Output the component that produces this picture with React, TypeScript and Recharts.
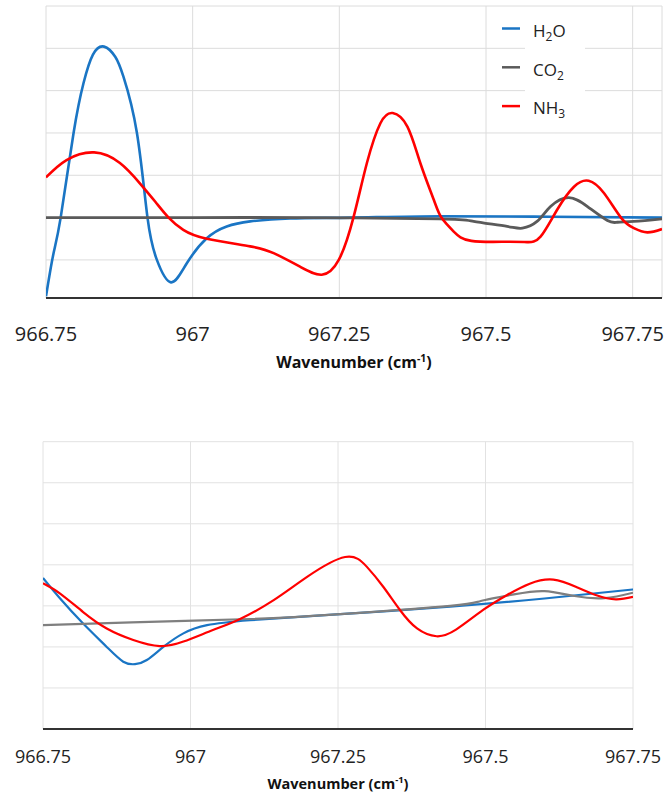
import { LineChart, Line, XAxis, YAxis, CartesianGrid } from "recharts";

const xTicks = [966.75, 967, 967.25, 967.5, 967.75];

// 2F signal (top)
const h2o2fX = [966.75, 966.762, 966.775, 966.797, 966.814, 966.83, 966.849, 966.868, 966.882, 966.905, 966.923, 966.939, 966.963, 966.99, 967.024, 967.058, 967.098, 967.166, 967.269, 967.422, 967.61, 967.8];
const h2o2fY = [-1.86, -0.9, 0, 2.0, 3.18, 3.85, 4.04, 3.8, 3.33, 2.0, 0, -1.0, -1.53, -1.08, -0.49, -0.21, -0.09, -0.02, 0, 0.03, 0.02, 0];

const co22fX = [966.75, 967.0, 967.2, 967.42, 967.479, 967.536, 967.562, 967.587, 967.61, 967.641, 967.673, 967.707, 967.724, 967.752, 967.8];
const co22fY = [0, 0, 0, -0.03, -0.09, -0.21, -0.25, -0.09, 0.26, 0.47, 0.26, -0.07, -0.11, -0.09, -0.03];

const nh32fX = [966.75, 966.785, 966.832, 966.876, 966.91, 966.936, 966.959, 966.984, 967.024, 967.098, 967.138, 967.183, 967.22, 967.249, 967.274, 967.297, 967.32, 967.341, 967.366, 967.388, 967.411, 967.424, 967.445, 967.475, 967.536, 967.57, 967.593, 967.621, 967.65, 967.675, 967.701, 967.73, 967.752, 967.775, 967.8];
const nh32fY = [0.95, 1.36, 1.54, 1.29, 0.81, 0.38, 0, -0.29, -0.5, -0.68, -0.84, -1.16, -1.35, -1.0, 0, 1.29, 2.23, 2.47, 2.15, 1.29, 0.42, 0, -0.33, -0.55, -0.57, -0.58, -0.45, 0.18, 0.73, 0.87, 0.58, 0, -0.25, -0.35, -0.27];

// 1F signal (bottom)
const h2o1fX = [966.75, 966.779, 966.818, 966.858, 966.886, 966.906, 966.926, 966.954, 966.988, 967.028, 967.101, 967.254, 967.44, 967.6, 967.75];
const h2o1fY = [3.68, 3.18, 2.57, 2.0, 1.64, 1.58, 1.68, 2.0, 2.33, 2.53, 2.65, 2.8, 2.98, 3.18, 3.4];

const co21fX = [966.75, 966.9, 967.101, 967.254, 967.44, 967.492, 967.548, 967.6, 967.651, 967.702, 967.75];
const co21fY = [2.53, 2.6, 2.68, 2.8, 3.0, 3.12, 3.28, 3.36, 3.24, 3.19, 3.32];

const nh31fX = [966.75, 966.779, 966.818, 966.858, 966.903, 966.948, 966.988, 967.038, 967.084, 967.141, 967.197, 967.262, 967.299, 967.327, 967.355, 967.384, 967.417, 967.45, 967.496, 967.536, 967.575, 967.615, 967.654, 967.688, 967.721, 967.75];
const nh31fY = [3.55, 3.3, 2.85, 2.45, 2.17, 2.02, 2.13, 2.41, 2.68, 3.14, 3.7, 4.19, 3.95, 3.46, 2.9, 2.45, 2.26, 2.42, 2.9, 3.26, 3.54, 3.64, 3.46, 3.26, 3.16, 3.22];

const BLUE = "#1a75c4";
const GRAY = "#5a5a5a";
const RED = "#ff0000";
const FONT = "'Open Sans', sans-serif";

const pts = (xs: number[], ys: number[]) => xs.map((x, i) => ({ x, y: ys[i] }));

// y ticks are kept (for the grid) but not drawn
const NoTick = () => <g />;

function LegendBox() {
  const rows = [
    { color: BLUE, a: "H", sub: "2", b: "O" },
    { color: GRAY, a: "CO", sub: "2", b: "" },
    { color: RED, a: "NH", sub: "3", b: "" },
  ];
  return (
    <svg width={100} height={112} style={{ display: "block" }}>
      <rect x={30} y={3} width={60} height={106} fill="#fff" />
      {rows.map((r, i) => (
        <g key={i}>
          <line x1={7} x2={25} y1={16.5 + i * 38.8} y2={16.5 + i * 38.8} stroke={r.color} strokeWidth={2.5} />
          <text x={38} y={24.7 + i * 38.8} fontSize={17} fontFamily={FONT} fill="#222">
            {r.a}
            <tspan fontSize={12} dy={4}>{r.sub}</tspan>
            <tspan fontSize={17} dy={-4}>{r.b}</tspan>
          </text>
        </g>
      ))}
    </svg>
  );
}

function xTitle(dy: number, size: number) {
  return ({ viewBox }: any) => (
    <text
      x={viewBox.x + viewBox.width / 2}
      y={viewBox.y + dy}
      textAnchor="middle"
      fontSize={size}
      fontWeight="bold"
      fontFamily={FONT}
      fill="#111"
    >
      Wavenumber (cm
      <tspan fontSize={size * 0.65} dy={-size * 0.4}>-1</tspan>
      <tspan fontSize={size} dy={size * 0.4}>)</tspan>
    </text>
  );
}

function yTitle(text: string, dx: number, dy: number, size: number) {
  return ({ viewBox }: any) => {
    const cx = viewBox.x + dx;
    const cy = viewBox.y + viewBox.height / 2 + dy;
    return (
      <text
        x={cx}
        y={cy}
        transform={`rotate(-90, ${cx}, ${cy})`}
        textAnchor="middle"
        dominantBaseline="central"
        fontSize={size}
        fontWeight="bold"
        fontFamily={FONT}
        fill="#111"
      >
        {text}
      </text>
    );
  };
}

export default function App() {
  return (
    <div style={{ position: "absolute", left: 0, top: 0, width: 665, height: 797, background: "#fff" }}>
      <div style={{ position: "absolute", left: 0, top: 0 }}>
        <LineChart width={665} height={380} margin={{ top: 6, right: 3, left: 46, bottom: 42 }}>
          <CartesianGrid stroke="#dcdcdc" strokeWidth={1} />
          <XAxis
            dataKey="x"
            type="number"
            domain={[966.75, 967.8]}
            ticks={xTicks}
            interval={0}
            height={40}
            tickLine={false}
            tickSize={0}
            tickMargin={29}
            axisLine={{ stroke: "#333", strokeWidth: 2 }}
            tick={{ fontSize: 20, fontFamily: FONT, fill: "#222" }}
            allowDataOverflow
            label={{ content: xTitle(70, 16) }}
          />
          <YAxis
            type="number"
            domain={[-1.9, 5]}
            ticks={[-1, 0, 1, 2, 3, 4, 5]}
            interval={0}
            width={0}
            tick={NoTick}
            tickLine={false}
            axisLine={{ stroke: "#333", strokeWidth: 2 }}
            allowDataOverflow
            label={{ content: yTitle("2F signal (a.u.)", -24, 11, 16) }}
          />
          <Line data={pts(h2o2fX, h2o2fY)} dataKey="y" name="H2O" type="natural" stroke={BLUE} strokeWidth={2.6} dot={false} isAnimationActive={false} />
          <Line data={pts(co22fX, co22fY)} dataKey="y" name="CO2" type="natural" stroke={GRAY} strokeWidth={2.8} dot={false} isAnimationActive={false} />
          <Line data={pts(nh32fX, nh32fY)} dataKey="y" name="NH3" type="natural" stroke={RED} strokeWidth={2.6} dot={false} isAnimationActive={false} />
        </LineChart>
        <div style={{ position: "absolute", left: 495, top: 12 }}>
          <LegendBox />
        </div>
      </div>
      <div style={{ position: "absolute", left: 0, top: 400 }}>
        <LineChart width={665} height={397} margin={{ top: 41.7, right: 32, left: 43, bottom: 28 }}>
          <CartesianGrid stroke="#e2e2e2" strokeWidth={1} />
          <XAxis
            dataKey="x"
            type="number"
            domain={[966.75, 967.75]}
            ticks={xTicks}
            interval={0}
            height={40}
            tickLine={false}
            tickSize={0}
            tickMargin={21}
            axisLine={{ stroke: "#333", strokeWidth: 2 }}
            tick={{ fontSize: 18, fontFamily: FONT, fill: "#222" }}
            allowDataOverflow
            label={{ content: xTitle(60, 14.5) }}
          />
          <YAxis
            type="number"
            domain={[0, 7]}
            ticks={[0, 1, 2, 3, 4, 5, 6]}
            interval={0}
            width={0}
            tick={NoTick}
            tickLine={false}
            axisLine={{ stroke: "#333", strokeWidth: 2 }}
            allowDataOverflow
            label={{ content: yTitle("1F signal (a.u.)", -18.5, -23, 15) }}
          />
          <Line data={pts(h2o1fX, h2o1fY)} dataKey="y" name="H2O" type="natural" stroke={BLUE} strokeWidth={2.2} dot={false} isAnimationActive={false} />
          <Line data={pts(co21fX, co21fY)} dataKey="y" name="CO2" type="natural" stroke="#7f7f7f" strokeWidth={2.2} dot={false} isAnimationActive={false} />
          <Line data={pts(nh31fX, nh31fY)} dataKey="y" name="NH3" type="natural" stroke={RED} strokeWidth={2.2} dot={false} isAnimationActive={false} />
        </LineChart>
      </div>
    </div>
  );
}
